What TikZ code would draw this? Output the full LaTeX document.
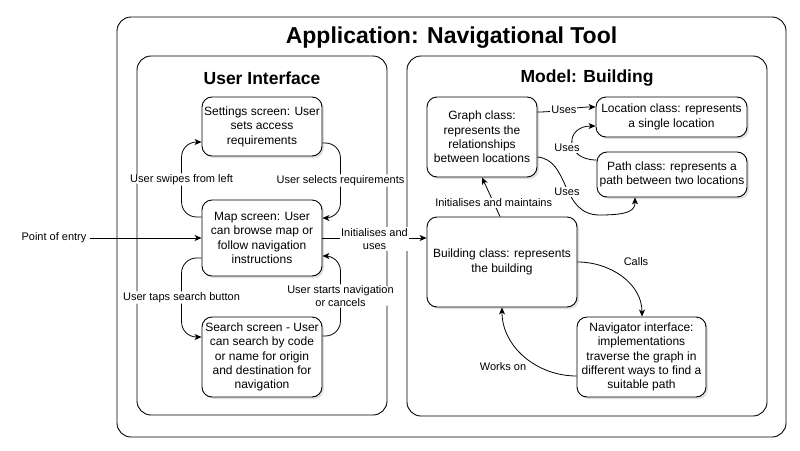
\documentclass[tikz,border=0pt]{standalone}
\usepackage{fontspec}
\setmainfont{Liberation Sans}
\usetikzlibrary{arrows.meta,shadows}
\begin{document}
\begin{tikzpicture}[x=1pt,y=-1pt,
  container/.style={draw, line width=0.9pt, rounded corners=14pt, inner sep=0pt},
  box/.style={draw, fill=white, line width=0.9pt, rounded corners=10pt, align=center,
    font=\fontsize{12}{14.4}\selectfont, inner sep=2pt,
    drop shadow={opacity=0.25, shadow xshift=2pt, shadow yshift=-2pt}},
  conn/.style={line width=0.8pt, -{Stealth[length=7pt,width=6pt,inset=2pt]}},
  lbl/.style={fill=white, inner sep=1pt, align=center, font=\fontsize{11}{13}\selectfont},
  lblt/.style={inner sep=1pt, align=center, font=\fontsize{11}{13}\selectfont},
  ttl/.style={font=\bfseries\fontsize{#1}{#1}\selectfont, inner sep=0pt}]
\useasboundingbox (0,0) rectangle (800,450);

% containers
\node[container, minimum width=669pt, minimum height=420pt] (app) at (451.5,227) {};
\node[ttl=23] (apptitle) at (451.5,38) {Application: Navigational Tool};
\node[container, minimum width=250pt, minimum height=359pt] (ui) at (262,235.5) {};
\node[ttl=17.5] (uititle) at (262,78) {User Interface};
\node[container, minimum width=360pt, minimum height=360pt] (model) at (587,236) {};
\node[ttl=17.5] (modeltitle) at (587,78) {Model: Building};

% UI nodes
\node[box, minimum width=120pt, minimum height=59pt] (settings) at (262,126.5)
  {Settings screen: User\\sets access\\requirements};
\node[box, minimum width=120pt, minimum height=76pt] (map) at (262,238)
  {Map screen: User\\can browse map or\\follow navigation\\instructions};
\node[box, minimum width=120pt, minimum height=80pt] (search) at (262,357)
  {Search screen - User\\can search by code\\or name for origin\\and destination for\\navigation};

% Model nodes
\node[box, minimum width=110pt, minimum height=80pt] (graph) at (482,137)
  {Graph class:\\represents the\\relationships\\between locations};
\node[box, minimum width=151pt, minimum height=40pt] (location) at (671.5,117)
  {Location class: represents\\a single location};
\node[box, minimum width=150pt, minimum height=45pt] (path) at (672,174.5)
  {Path class: represents a\\path between two locations};
\node[box, minimum width=150pt, minimum height=90pt] (building) at (502,262)
  {Building class: represents\\the building};
\node[box, minimum width=129pt, minimum height=80pt] (nav) at (641.5,357)
  {Navigator interface:\\implementations\\traverse the graph in\\different ways to find a\\suitable path};

% entry
\node[lblt, inner sep=3pt] (entry) at (54,238) {Point of entry};
\draw[conn] (entry.east) -- (map.west);

% UI connectors
\draw[conn, rounded corners=15pt] ([yshift=21pt]map.west) -- ++(-20,0)
  |- node[lbl, pos=0.25] {User swipes from left} ([yshift=-15.5pt]settings.west);
\draw[conn, rounded corners=15pt] ([yshift=-16.5pt]settings.east) -- ++(18,0)
  |- node[lbl, pos=0.25] {User selects requirements} ([yshift=20pt]map.east);
\draw[conn, rounded corners=15pt] ([yshift=-20pt]map.west) -- ++(-20,0)
  |- node[lbl, pos=0.25] {User taps search button} ([yshift=20pt]search.west);
\draw[conn, rounded corners=15pt] ([yshift=21pt]search.east) -- ++(18,0)
  |- node[lbl, pos=0.25] {User starts navigation\\or cancels} ([yshift=-18pt]map.east);

% cross connector
\draw[conn] (map.east) -- node[lbl, yshift=-1pt] {Initialises and\\uses} (map.east -| building.west);

% model connectors
\draw[conn] ([xshift=-2pt]building.north) -- node[lbl, pos=0.35] {Initialises and maintains} (graph.south);
\draw[conn] ([yshift=25pt]graph.east) to[out=0,in=180] node[lbl, pos=0.45] {Uses} ([yshift=10pt]location.west);
\draw[conn] ([yshift=14.5pt]path.west) .. controls +(-32,0) and +(-31,0) .. ([yshift=-9pt]location.west);
\node[lbl] (uses2) at (567,148) {Uses};
\draw[conn] ([yshift=-20pt]graph.east) .. controls +(33,3) and (560,215) .. (600,215)
  .. controls (630,215) and (635,210) .. ([xshift=-37pt]path.south);
\node[lbl] (uses3) at (567,192) {Uses};
\draw[conn] (building.east) to[out=0,in=90] ([xshift=0.5pt]nav.north);
\node[lblt] (calls) at (636,262) {Calls};
\draw[conn] ([yshift=-19pt]nav.west) to[out=180,in=-90] (building.south);
\node[lbl] (works) at (503,367) {Works on};
\end{tikzpicture}
\end{document}
